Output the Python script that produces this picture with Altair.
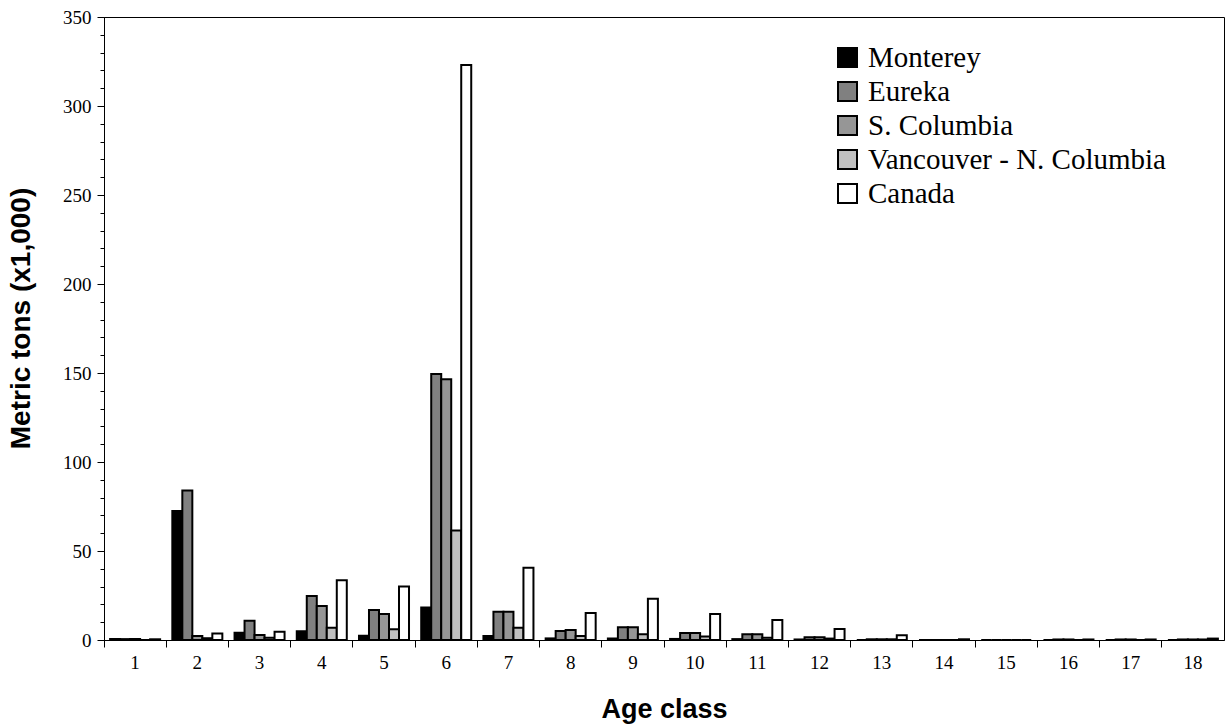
import altair as alt
import pandas as pd

# Age classes and regional stocks
ages = list(range(1, 19))
regions = ["Monterey", "Eureka", "S. Columbia", "Vancouver - N. Columbia", "Canada"]
fills = ["#000000", "#808080", "#969696", "#c0c0c0", "#ffffff"]

# Biomass by age class, metric tons (x1,000)
monterey = [0.5, 72.5, 4.1, 4.9, 2.4, 18.2, 2.2, 0.9, 0.9, 0.6, 0.5, 0.3, 0.0, 0.0, 0.0, 0.0, 0.0, 0.0]
eureka = [0.5, 84.0, 10.8, 24.7, 16.9, 149.5, 15.9, 5.1, 7.1, 3.9, 3.2, 1.5, 0.4, 0.0, 0.0, 0.3, 0.3, 0.3]
s_columbia = [0.5, 2.2, 2.8, 19.1, 14.6, 146.5, 15.9, 5.6, 7.1, 3.9, 3.2, 1.5, 0.4, 0.0, 0.0, 0.3, 0.3, 0.3]
vancouver = [0.0, 1.0, 1.3, 6.9, 6.0, 61.5, 6.9, 2.2, 3.2, 1.9, 1.3, 0.8, 0.4, 0.0, 0.0, 0.0, 0.0, 0.3]
canada = [0.4, 3.7, 4.7, 33.5, 30.0, 323.0, 40.6, 15.2, 23.2, 14.6, 11.2, 6.2, 2.7, 0.4, 0.0, 0.3, 0.3, 0.8]

series = [monterey, eureka, s_columbia, vancouver, canada]
rows = []
for region, vals in zip(regions, series):
    for age, v in zip(ages, vals):
        rows.append({"age": age, "region": region, "tons": v})
df = pd.DataFrame(rows)

SERIF = "Liberation Serif"
SANS = "Liberation Sans"

# Ticks sit on the category boundaries, labels stay centred
x_enc = alt.X(
    "age:O",
    scale=alt.Scale(paddingInner=0, paddingOuter=0),
    axis=alt.Axis(
        title="Age class",
        bandPosition=0,
        labelAngle=0,
        labelFont=SERIF,
        labelFontSize=19,
        labelColor="black",
        labelPadding=6,
        tickSize=7,
        tickColor="black",
        domainColor="black",
        titleFont=SANS,
        titleFontSize=27,
        titleFontWeight="bold",
        titleColor="black",
        titleX=560,
        titleY=69,
        titleBaseline="middle",
    ),
)

y_scale = alt.Scale(domain=[0, 350], nice=False)

bars = alt.Chart(df).mark_bar(stroke="black", strokeWidth=2).encode(
    x=x_enc,
    xOffset=alt.XOffset(
        "region:N", sort=regions, scale=alt.Scale(paddingInner=0, paddingOuter=0.61)
    ),
    y=alt.Y(
        "tons:Q",
        scale=y_scale,
        axis=alt.Axis(
            values=list(range(0, 351, 50)),
            title="Metric tons (x1,000)",
            grid=False,
            labelFont=SERIF,
            labelFontSize=19,
            labelColor="black",
            labelPadding=6,
            tickSize=7,
            tickColor="black",
            domainColor="black",
            titleFont=SANS,
            titleFontSize=28,
            titleFontWeight="bold",
            titleColor="black",
            titleAngle=270,
            titleX=-83,
            titleY=301,
            titleAlign="center",
            titleBaseline="middle",
        ),
    ),
    fill=alt.Fill(
        "region:N",
        sort=regions,
        scale=alt.Scale(domain=regions, range=fills),
        legend=alt.Legend(
            title=None,
            orient="none",
            legendX=729,
            legendY=26,
            symbolType="square",
            symbolSize=361,
            symbolStrokeColor="black",
            symbolStrokeWidth=2,
            symbolOpacity=1,
            labelFont=SERIF,
            labelFontSize=29,
            labelColor="black",
            labelOffset=6,
            rowPadding=4,
            labelLimit=0,
        ),
    ),
)

# Minor ticks every 10 along the value axis
minor = alt.Chart(df).mark_bar(opacity=0).encode(
    x=x_enc,
    y=alt.Y(
        "tons:Q",
        scale=y_scale,
        axis=alt.Axis(
            orient="left",
            values=list(range(0, 351, 10)),
            labels=False,
            title=None,
            grid=False,
            domain=False,
            tickSize=4,
            tickColor="black",
        ),
    ),
)

chart = (
    alt.layer(bars, minor)
    .resolve_axis(y="independent")
    .properties(
        width=1120,
        height=623,
        padding={"left": 104, "top": 17, "right": 1, "bottom": 88},
        autosize=alt.AutoSizeParams(type="none"),
        background="white",
    )
    .configure_view(stroke="black", strokeWidth=1)
)

chart.save("out.html", embed_options={"renderer": "svg", "actions": False})
